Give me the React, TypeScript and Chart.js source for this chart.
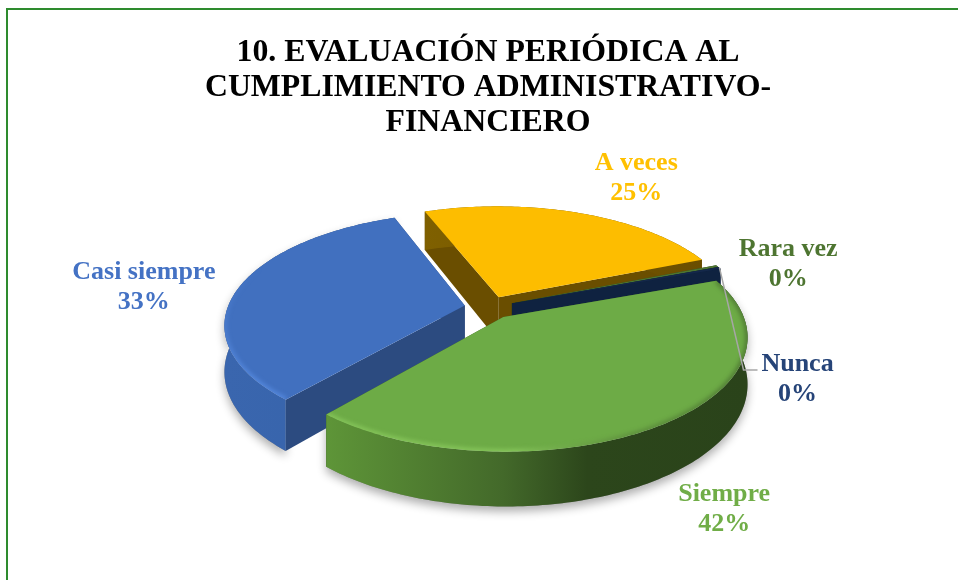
import React, { useEffect, useRef } from "react";
import { Chart, registerables } from "chart.js";

Chart.register(...registerables);

const titleLines = ["10. EVALUACIÓN PERIÓDICA AL", "CUMPLIMIENTO ADMINISTRATIVO-", "FINANCIERO"];
const categories = ["A veces", "Rara vez", "Nunca", "Siempre", "Casi siempre"];
const values = [24.7, 0.3, 0.3, 41.8, 32.9];
const sliceColors = ["#FDBD00", "#4E7531", "#14284A", "#6DAB46", "#4170BF"];
const labelColors = ["#FFC000", "#4E7531", "#264478", "#70AD47", "#4472C4"];
const wallColors = ["#6A4E00", "#2A3F18", "#0F2240", "#3A5C25", "#2C4B80"];
const rimStops: [number, string][][] = [
  [[0, "#7F6000"], [1, "#6A4E00"]],
  [[0, "#2A3F18"], [1, "#2A3F18"]],
  [[0, "#0F2240"], [1, "#0F2240"]],
  [[0, "#5E9538"], [0.42, "#43692A"], [0.62, "#2C461B"], [1, "#2A431A"]],
  [[0, "#3A66AE"], [1, "#3563AB"]],
];
const bevelColors = [null, null, null, "#8FCF62", "#5A8FE6"];
const drawOrder = [0, 1, 2, 4, 3];
const labelShift = [
  [58, -35],
  [71, -2],
  [78, 111],
  [60, 85],
  [-95, 0],
];

const RX = 237;
const RY = 109;
const PERSPECTIVE = 0.165;
const DEPTH = 45;
const SHIFT_X = 1;

type P = [number, number];

function pieGeometry(arc: any) {
  const half = (arc.startAngle + arc.endAngle) / 2;
  const e = (arc.options.offset || 0) / arc.outerRadius;
  const ox = Math.cos(half) * e;
  const oy = Math.sin(half) * e;
  const at = (r: number, a: number, z = 0): P => {
    const u = ox + r * Math.cos(a);
    const v = -(oy + r * Math.sin(a));
    const w = 1 + PERSPECTIVE * v;
    return [arc.x + SHIFT_X + (RX * u) / w, arc.y - (RY * v) / w + (z * DEPTH) / w];
  };
  return { at, half };
}

function arcPoints(arc: any, z: number, reverse = false): P[] {
  const { at } = pieGeometry(arc);
  const n = Math.max(2, Math.ceil(((arc.endAngle - arc.startAngle) * 180) / Math.PI));
  const pts: P[] = [];
  for (let i = 0; i <= n; i++) {
    const t = i / n;
    pts.push(at(1, arc.startAngle + t * (arc.endAngle - arc.startAngle), z));
  }
  return reverse ? pts.reverse() : pts;
}

function tracePath(ctx: CanvasRenderingContext2D, pts: P[], close = true) {
  ctx.beginPath();
  pts.forEach((p, i) => (i ? ctx.lineTo(p[0], p[1]) : ctx.moveTo(p[0], p[1])));
  if (close) ctx.closePath();
}

const pie3d = {
  id: "pie3d",
  beforeDraw(chart: any) {
    const { ctx, width, height } = chart;
    ctx.save();
    ctx.fillStyle = "#FFFFFF";
    ctx.fillRect(0, 0, width, height);
    ctx.strokeStyle = "#2E8B2E";
    ctx.lineWidth = 2;
    ctx.strokeRect(7, 9, width + 40, height + 40);
    ctx.restore();
  },
  beforeDatasetDraw(chart: any) {
    const { ctx } = chart;
    const arcs = chart.getDatasetMeta(0).data;

    ctx.save();
    ctx.shadowColor = "rgba(0,0,0,0.32)";
    ctx.shadowBlur = 10;
    ctx.shadowOffsetY = 5;
    ctx.fillStyle = "#888888";
    [3, 4].forEach((i) => {
      tracePath(ctx, [...arcPoints(arcs[i], 0), ...arcPoints(arcs[i], 1, true)]);
      ctx.fill();
    });
    ctx.restore();

    drawOrder.forEach((i) => {
      const arc = arcs[i];
      const { at } = pieGeometry(arc);
      const topArc = arcPoints(arc, 0);
      const bottomArc = arcPoints(arc, 1, true);
      const apex = at(0, arc.startAngle);
      const apexLow = at(0, arc.startAngle, 1);

      ctx.fillStyle = wallColors[i];
      [topArc[0], topArc[topArc.length - 1]].forEach((p, k) => {
        const q = k === 0 ? bottomArc[bottomArc.length - 1] : bottomArc[0];
        tracePath(ctx, [apex, p, q, apexLow]);
        ctx.fill();
      });

      const xs = topArc.map((p) => p[0]);
      const minX = Math.min(...xs);
      const maxX = Math.max(...xs);
      const rim = ctx.createLinearGradient(minX, 0, maxX, 0);
      rimStops[i].forEach(([o, c]) => rim.addColorStop(o, c));
      ctx.fillStyle = rim;
      tracePath(ctx, [...topArc, ...bottomArc]);
      ctx.fill();

      tracePath(ctx, [apex, ...topArc]);
      ctx.fillStyle = arc.options.backgroundColor;
      ctx.fill();

      const bevel = bevelColors[i];
      if (bevel) {
        ctx.save();
        tracePath(ctx, [apex, ...topArc]);
        ctx.clip();
        let g: CanvasGradient;
        if (i === 4) {
          g = ctx.createLinearGradient(0, arc.y - 40, 0, arc.y + 70);
          g.addColorStop(0, "rgba(90,143,230,0)");
          g.addColorStop(1, bevel);
        } else {
          g = ctx.createLinearGradient(minX, 0, maxX, 0);
          g.addColorStop(0, bevel);
          g.addColorStop(0.45, bevel);
          g.addColorStop(0.8, "rgba(60,90,40,0.55)");
          g.addColorStop(1, "rgba(60,90,40,0.8)");
        }
        ctx.strokeStyle = g;
        ctx.globalAlpha = 0.75;
        ctx.filter = "blur(2px)";
        ctx.lineWidth = 5;
        tracePath(ctx, topArc, false);
        ctx.stroke();
        ctx.restore();
      }
    });
    return false;
  },
  afterDatasetsDraw(chart: any) {
    const { ctx } = chart;
    const arcs = chart.getDatasetMeta(0).data;
    const total = values.reduce((a, b) => a + b, 0);

    const nunca = arcs[2];
    const { at: atNunca, half: halfNunca } = pieGeometry(nunca);
    const tip = atNunca(1, halfNunca);
    const nuncaLabel = [tip[0] + labelShift[2][0], tip[1] + labelShift[2][1]];
    ctx.save();
    ctx.strokeStyle = "#A6A6A6";
    ctx.lineWidth = 1.5;
    ctx.beginPath();
    ctx.moveTo(tip[0], tip[1]);
    ctx.lineTo(nuncaLabel[0] - 54, nuncaLabel[1] - 9);
    ctx.lineTo(nuncaLabel[0] - 40, nuncaLabel[1] - 9);
    ctx.stroke();
    ctx.restore();

    ctx.save();
    ctx.font = 'bold 26px "Liberation Serif"';
    ctx.textAlign = "center";
    ctx.textBaseline = "middle";
    arcs.forEach((arc: any, i: number) => {
      const { at, half } = pieGeometry(arc);
      const p = at(1, half);
      const x = p[0] + labelShift[i][0];
      const y = p[1] + labelShift[i][1];
      ctx.fillStyle = labelColors[i];
      ctx.fillText(categories[i], x, y - 15);
      ctx.fillText(`${Math.round((values[i] / total) * 100)}%`, x, y + 15);
    });
    ctx.restore();
  },
};

export default function App() {
  const ref = useRef<HTMLCanvasElement>(null);
  useEffect(() => {
    const chart = new Chart(ref.current as HTMLCanvasElement, {
      type: "pie",
      data: {
        labels: categories,
        datasets: [
          {
            data: values,
            backgroundColor: sliceColors,
            borderWidth: 0,
            offset: 16,
            clip: false,
          } as any,
        ],
      },
      options: {
        animation: false,
        responsive: false,
        rotation: 339,
        layout: { padding: { left: 18, right: 0, top: 35, bottom: 111 } },
        plugins: {
          legend: { display: false },
          tooltip: { enabled: false },
          title: {
            display: true,
            text: titleLines,
            color: "#000000",
            font: { family: '"Liberation Serif"', size: 31.8, weight: "bold", lineHeight: 1.1 },
            padding: { top: 0, bottom: 6 },
          },
        },
      },
      plugins: [pie3d],
    } as any);
    return () => chart.destroy();
  }, []);
  return (
    <canvas
      ref={ref}
      width={958}
      height={580}
      style={{ position: "fixed", left: 0, top: 0, width: 958, height: 580, display: "block" }}
    />
  );
}
